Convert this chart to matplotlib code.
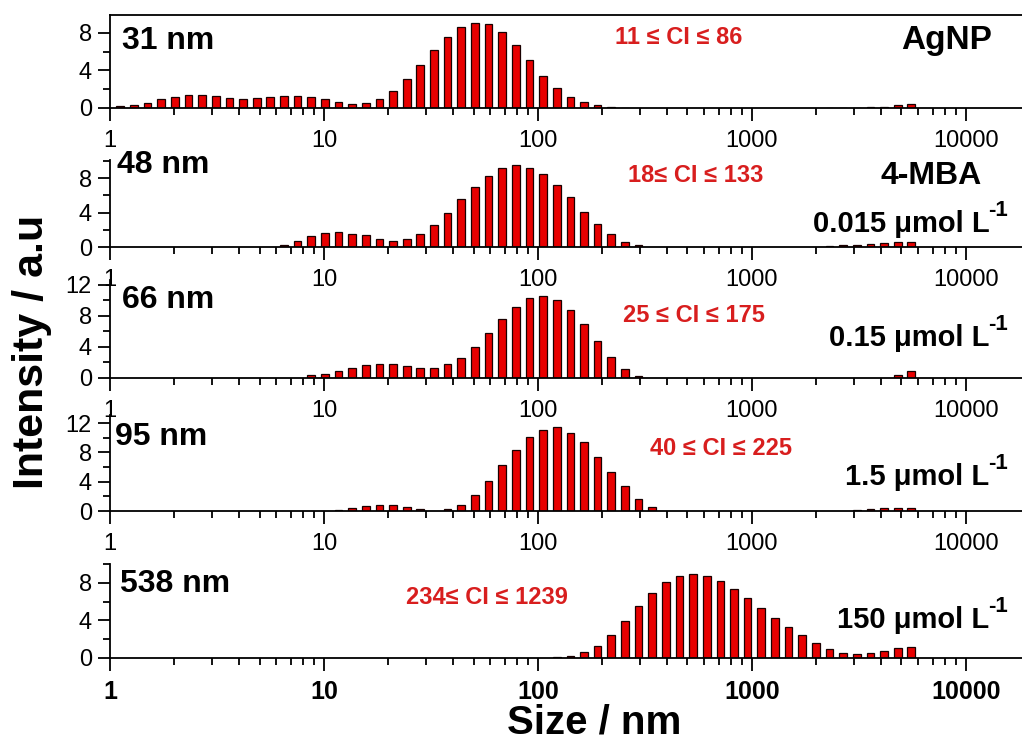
import numpy as np
import matplotlib
matplotlib.use('Agg')
import matplotlib.pyplot as plt
from matplotlib.ticker import LogLocator, FixedLocator, NullFormatter

plt.rcParams['font.family'] = ['Liberation Sans', 'DejaVu Sans']

# DLS size bins (nm)
sizes = [1.117, 1.294, 1.499, 1.736, 2.010, 2.328, 2.696, 3.122, 3.615, 4.187,
         4.849, 5.615, 6.503, 7.531, 8.721, 10.10, 11.70, 13.54, 15.69, 18.17,
         21.04, 24.36, 28.21, 32.67, 37.84, 43.82, 50.75, 58.77, 68.06, 78.82,
         91.28, 105.7, 122.4, 141.8, 164.2, 190.1, 220.2, 255.0, 295.3, 342.0,
         396.1, 458.7, 531.2, 615.1, 712.4, 825.0, 955.4, 1106, 1281, 1484,
         1718, 1990, 2305, 2669, 3091, 3580, 4145, 4801, 5560]

agnp = [0.25, 0.3, 0.5, 0.95, 1.15, 1.35, 1.35, 1.25, 1.05, 1.0,
        1.05, 1.15, 1.25, 1.25, 1.15, 0.95, 0.65, 0.45, 0.55, 0.95,
        1.85, 3.05, 4.55, 6.2, 7.6, 8.6, 9.1, 8.95, 8.1, 6.75,
        5.15, 3.45, 2.15, 1.15, 0.6, 0.3, 0.15, 0.05, 0, 0,
        0, 0, 0, 0, 0, 0, 0, 0, 0, 0,
        0, 0, 0.04, 0.05, 0.05, 0.07, 0.1, 0.3, 0.45]

mba_0015 = [0, 0, 0, 0, 0, 0, 0, 0, 0, 0,
            0, 0, 0.27, 0.7, 1.25, 1.6, 1.7, 1.55, 1.35, 0.95,
            0.7, 0.95, 1.5, 2.55, 3.9, 5.55, 7.0, 8.3, 9.2, 9.55,
            9.2, 8.5, 7.2, 5.8, 4.1, 2.7, 1.5, 0.62, 0.27, 0,
            0, 0, 0, 0, 0, 0, 0, 0, 0, 0,
            0, 0, 0.15, 0.2, 0.23, 0.35, 0.5, 0.62, 0.62]

mba_015 = [0, 0, 0, 0, 0, 0, 0, 0, 0, 0,
           0, 0, 0, 0, 0.35, 0.55, 0.95, 1.3, 1.65, 1.85,
           1.75, 1.55, 1.3, 1.3, 1.75, 2.6, 4.0, 5.8, 7.55, 9.15,
           10.25, 10.55, 10.05, 8.8, 6.9, 4.7, 2.75, 1.15, 0.3, 0,
           0, 0, 0, 0, 0, 0, 0, 0, 0, 0,
           0, 0, 0, 0, 0, 0, 0, 0.4, 0.9]

mba_15 = [0, 0, 0, 0, 0, 0, 0, 0, 0, 0,
          0, 0, 0, 0, 0, 0, 0.15, 0.45, 0.7, 0.85,
          0.8, 0.55, 0.3, 0, 0.3, 0.85, 2.15, 4.1, 6.25, 8.35,
          10.1, 11.1, 11.4, 10.7, 9.35, 7.4, 5.35, 3.4, 1.7, 0.55,
          0, 0, 0, 0, 0, 0, 0, 0, 0, 0,
          0, 0, 0, 0, 0.18, 0.27, 0.4, 0.4, 0.45]

mba_150 = [0, 0, 0, 0, 0, 0, 0, 0, 0, 0,
           0, 0, 0, 0, 0, 0, 0, 0, 0, 0,
           0, 0, 0, 0, 0, 0, 0, 0, 0, 0,
           0, 0, 0.07, 0.18, 0.65, 1.25, 2.4, 3.9, 5.5, 6.95,
           8.1, 8.7, 8.95, 8.7, 8.2, 7.35, 6.4, 5.3, 4.25, 3.3,
           2.4, 1.55, 0.95, 0.55, 0.43, 0.53, 0.75, 1.05, 1.15]

series = [agnp, mba_0015, mba_015, mba_15, mba_150]
mean_labels = ['31 nm', '48 nm', '66 nm', '95 nm', '538 nm']
ci_labels = ['11 \u2264 CI \u2264 86', '18\u2264 CI \u2264 133', '25 \u2264 CI \u2264 175',
             '40 \u2264 CI \u2264 225', '234\u2264 CI \u2264 1239']
conc_labels = [None, '0.015 \u03bcmol L', '0.15 \u03bcmol L', '1.5 \u03bcmol L', '150 \u03bcmol L']
x_ticklabels = ['1', '10', '100', '1000', '10000']
y_tops = [9.9, 10.1, 12.6, 13.1, 10.0]
y_majors = [[0, 4, 8], [0, 4, 8], [0, 4, 8, 12], [0, 4, 8, 12], [0, 4, 8]]

W, H = 1022.0, 742.0
# panel extents in pixels: (top, bottom)
panels_px = [(15, 108), (160, 247), (280, 378), (415, 511), (564, 658)]
ci_pos = [(679, 37), (696, 175), (694, 316), (721, 449), (487, 597)]
mean_pos = [(122, 41), (117, 165), (122, 300), (115, 437), (120, 584)]
conc_base = [None, 232, 346, 485, 628]

RED = '#e80000'
hw = 0.018

fig = plt.figure(figsize=(W / 100, H / 100), dpi=100)
fig.set_facecolor('white')

def fx(px):
  return px / W

def fy(py):
  return 1.0 - py / H

for i, vals in enumerate(series):
  top, bottom = panels_px[i]
  ax = fig.add_axes([110 / W, 1 - bottom / H, (W - 110) / W, (bottom - top) / H])
  ax.set_facecolor('none')
  x = np.array(sizes)
  v = np.array(vals)
  keep = v > 0
  left = x[keep] * 10 ** (-hw)
  width = x[keep] * (10 ** hw - 10 ** (-hw))
  ax.bar(left, v[keep], width=width, align='edge', color=RED,
         edgecolor='#1a0000', linewidth=0.9, zorder=2)
  ax.set_xscale('log')
  ax.set_xlim(1, 18300)
  ax.set_ylim(0, y_tops[i])

  ax.spines['right'].set_visible(False)
  if i != 0:
    ax.spines['top'].set_visible(False)
  for s in ax.spines.values():
    s.set_linewidth(1.3)

  ax.xaxis.set_major_locator(FixedLocator([1, 10, 100, 1000, 10000]))
  ax.xaxis.set_minor_locator(LogLocator(base=10, subs=np.arange(2, 10), numticks=20))
  ax.xaxis.set_minor_formatter(NullFormatter())
  ax.set_xticklabels(x_ticklabels)
  ax.yaxis.set_major_locator(FixedLocator(y_majors[i]))
  ax.yaxis.set_minor_locator(FixedLocator([2, 6, 10]))

  ax.tick_params(axis='both', which='major', direction='out', length=9, width=1.3)
  ax.tick_params(axis='both', which='minor', direction='out', length=5, width=1.3)
  ax.tick_params(axis='x', which='major', pad=7, labelsize=17)
  ax.tick_params(axis='y', which='major', pad=4, labelsize=17)
  ax.tick_params(top=False, right=False, which='both')
  if i == 4:
    for lab in ax.get_xticklabels():
      lab.set_fontweight('bold')
      lab.set_fontsize(18)

  fig.text(fx(mean_pos[i][0]), fy(mean_pos[i][1]), mean_labels[i],
           fontsize=23, fontweight='bold', ha='left', va='center')
  fig.text(fx(ci_pos[i][0]), fy(ci_pos[i][1]), ci_labels[i], color='#d81e1e',
           fontsize=17, fontweight='bold', ha='center', va='center')
  if conc_labels[i] is not None:
    # superscript "-1" drawn as its own small bold text
    sup = fig.text(fx(1008), fy(conc_base[i] - 16), '-1', fontsize=16,
                   fontweight='bold', ha='right', va='baseline')
    fig.canvas.draw()
    bb = sup.get_window_extent()
    fig.text(bb.x0 / W + 0.001, fy(conc_base[i]), conc_labels[i], fontsize=21,
             fontweight='bold', ha='right', va='baseline')

fig.text(fx(947), fy(40), 'AgNP', fontsize=24, fontweight='bold', ha='center', va='center')
fig.text(fx(931), fy(176), '4-MBA', fontsize=23, fontweight='bold', ha='center', va='center')

fig.text(fx(594), fy(722), 'Size / nm', fontsize=29, fontweight='bold', ha='center', va='center')
fig.text(fx(32), fy(352), 'Intensity / a.u', fontsize=31, fontweight='bold',
         ha='center', va='center', rotation=90)

plt.savefig('out.png', dpi=100, facecolor='white')
